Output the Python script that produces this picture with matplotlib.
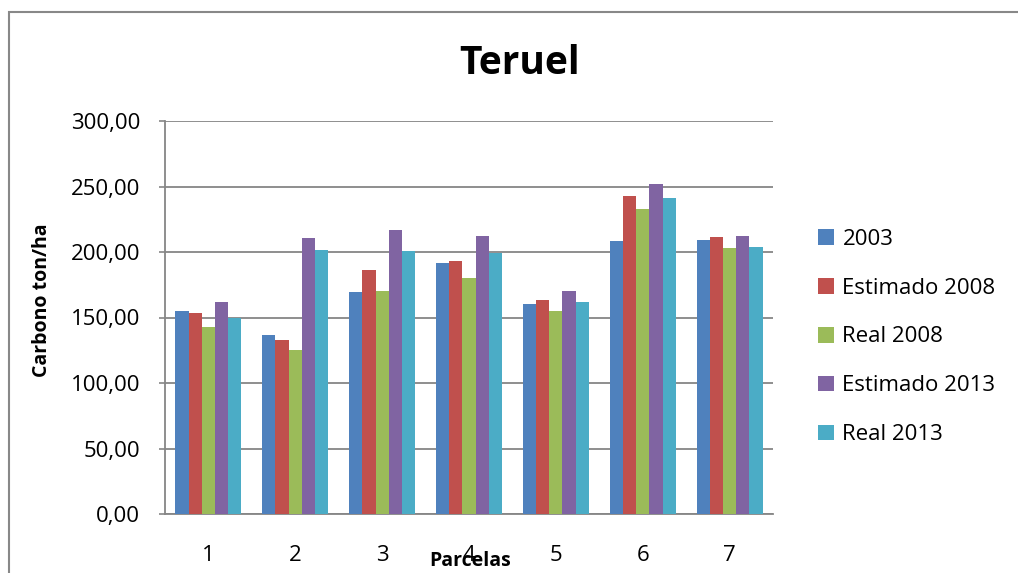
import numpy as np
import matplotlib
matplotlib.use('Agg')
from matplotlib import pyplot as plt
from matplotlib.patches import Rectangle, Patch

plt.rcParams['font.family'] = ['Open Sans', 'DejaVu Sans']

parcelas = ['1', '2', '3', '4', '5', '6', '7']
series_names = ['2003', 'Estimado 2008', 'Real 2008', 'Estimado 2013', 'Real 2013']
v2003 = [155.3, 136.8, 169.5, 191.4, 160.4, 208.6, 209.4]
est2008 = [153.6, 133.2, 186.5, 193.4, 163.5, 242.6, 211.4]
real2008 = [142.4, 125.4, 170.6, 180.0, 155.1, 233.0, 202.8]
est2013 = [161.7, 210.4, 217.0, 212.4, 170.3, 252.0, 212.4]
real2013 = [150.0, 201.5, 201.0, 199.0, 161.9, 241.4, 203.6]
colors = ['#4F81BD', '#C0504D', '#9BBB59', '#8064A2', '#4BACC6']
yticks = [0, 50, 100, 150, 200, 250, 300]

series = [v2003, est2008, real2008, est2013, real2013]

fig = plt.figure(figsize=(10.18, 5.73), dpi=100)
ax = fig.add_axes([165 / 1018, 1 - 514 / 573, 608 / 1018, 393 / 573])

x = np.arange(len(parcelas))
w = 0.152
for i, (vals, c) in enumerate(zip(series, colors)):
    ax.bar(x + (i - 2) * w, vals, width=w, color=c, zorder=3)

ax.set_xlim(-0.5, len(parcelas) - 0.5)
ax.set_ylim(0, 300)
ax.set_yticks(yticks)
ax.set_yticklabels([f"{v:.2f}".replace('.', ',') for v in yticks], fontsize=16)
ax.set_xticks(x)
ax.set_xticklabels(parcelas, fontsize=16)
ax.tick_params(axis='x', length=0, pad=22)
ax.tick_params(axis='y', length=4, color='#868686', width=1.2, pad=14)
ax.yaxis.grid(True, color='#868686', linewidth=1.3, zorder=0)
for s in ['top', 'right']:
    ax.spines[s].set_visible(False)
for s in ['left', 'bottom']:
    ax.spines[s].set_color('#868686')
    ax.spines[s].set_linewidth(1.3)

fig.text(520 / 1018, 1 - 64 / 573, 'Teruel', fontsize=28, fontweight='bold',
         ha='center', va='center')
fig.text(42 / 1018, 1 - 300 / 573, 'Carbono ton/ha', fontsize=14, fontweight='bold',
         rotation=90, ha='center', va='center')
fig.text(470 / 1018, 1 - 561 / 573, 'Parcelas', fontsize=14, fontweight='bold',
         ha='center', va='center')

handles = [Patch(facecolor=c) for c in colors]
fig.legend(handles, series_names, loc='center left', bbox_to_anchor=(798 / 1018, 1 - 337 / 573),
           frameon=False, fontsize=16, handlelength=0.7, handleheight=0.7,
           handletextpad=0.4, labelspacing=1.25)

fig.patches.append(Rectangle((9 / 1018, -0.1), 1.1, 1 - 12 / 573 + 0.1, transform=fig.transFigure,
                             fill=False, edgecolor='#888888', linewidth=1.5))

fig.savefig('out.png', dpi=100)
